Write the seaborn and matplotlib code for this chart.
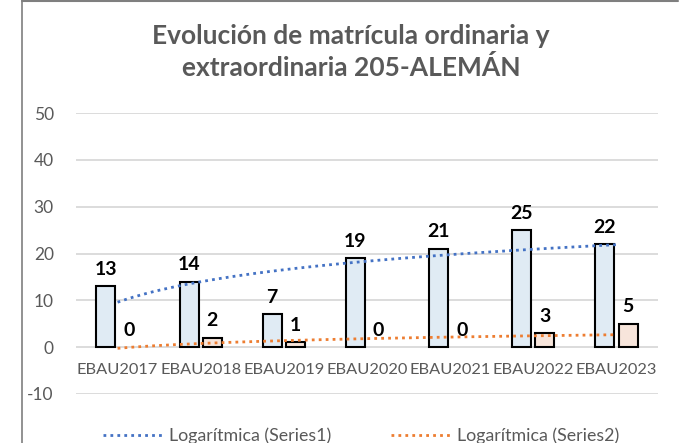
import matplotlib
matplotlib.use("Agg")
import matplotlib.pyplot as plt
from matplotlib.lines import Line2D
import seaborn as sns
import pandas as pd
import numpy as np

# datos
categorias = ["EBAU2017", "EBAU2018", "EBAU2019", "EBAU2020", "EBAU2021", "EBAU2022", "EBAU2023"]
ordinaria = [13, 14, 7, 19, 21, 25, 22]
extraordinaria = [0, 2, 1, 0, 0, 3, 5]
y_ticks = [-10, 0, 10, 20, 30, 40, 50]

df = pd.DataFrame({
    "Convocatoria": categorias * 2,
    "Matricula": ordinaria + extraordinaria,
    "Serie": ["Series1"] * len(categorias) + ["Series2"] * len(categorias),
})

sns.set_style("white")
plt.rcParams["font.family"] = ["Lato", "DejaVu Sans"]
plt.rcParams["axes.unicode_minus"] = False

gris = "#595959"
fig = plt.figure(figsize=(6.88, 4.43), dpi=100)
ax = fig.add_axes([76 / 688, 49 / 443, 582 / 688, 281 / 443])

sns.barplot(data=df, x="Convocatoria", y="Matricula", hue="Serie",
            palette=["#DDEBF7", "#FCE4D6"], edgecolor="black", linewidth=1.5,
            width=0.56, gap=0.18, ax=ax, legend=False, errorbar=None)

# las barras con valor 0 no se ven en el original
for p in ax.patches:
    if p.get_height() == 0:
        p.set_edgecolor("none")

for cont in ax.containers:
    ax.bar_label(cont, fmt="%d", padding=6, fontsize=14, fontweight="bold", color="black")

# lineas de tendencia logaritmicas (como Excel)
xs = np.arange(1, len(categorias) + 1)
xx = np.linspace(1, len(categorias), 200)
for serie, color in [(ordinaria, "#4472C4"), (extraordinaria, "#ED7D31")]:
    a, b = np.polyfit(np.log(xs), serie, 1)
    ax.plot(xx - 1, a * np.log(xx) + b, linestyle=(0, (1, 1.5)), color=color, linewidth=2)

ax.set_ylim(-10, 50)
ax.set_xlim(-0.5, len(categorias) - 0.5)
ax.set_yticks(y_ticks)
ax.yaxis.grid(True, color="#D9D9D9", linewidth=1.3)
ax.set_axisbelow(True)
ax.tick_params(axis="y", length=0, pad=16, labelsize=12.5, labelcolor=gris)
ax.set_xticks([])
ax.set_xlabel("")
ax.set_ylabel("")
for i, cat in enumerate(categorias):
    ax.text(i, -4.8, cat, ha="center", va="center", fontsize=11.8, color=gris)
sns.despine(ax=ax, left=True, bottom=True)

fig.text(0.51, (443 - 52) / 443, "Evolución de matrícula ordinaria y\nextraordinaria 205-ALEMÁN",
         ha="center", va="center", fontsize=19, fontweight="bold", color=gris,
         linespacing=1.3)

handles = [Line2D([], [], color="#4472C4", linestyle=(0, (1, 1.5)), linewidth=2),
           Line2D([], [], color="#ED7D31", linestyle=(0, (1, 1.5)), linewidth=2)]
fig.legend(handles, ["Logarítmica (Series1)", "Logarítmica (Series2)"],
           loc="center", bbox_to_anchor=(0.525, 7 / 443), ncol=2, frameon=False,
           fontsize=12.8, labelcolor=gris, handlelength=3.4, handletextpad=0.3,
           columnspacing=3.4)

# borde del area del grafico
fig.add_artist(Line2D([22 / 688, 22 / 688], [0, 1], color="#7F7F7F", linewidth=1.2))
fig.add_artist(Line2D([22 / 688, 678 / 688], [0.998, 0.998], color="#7F7F7F", linewidth=1.5))

fig.savefig("out.png", dpi=100)
